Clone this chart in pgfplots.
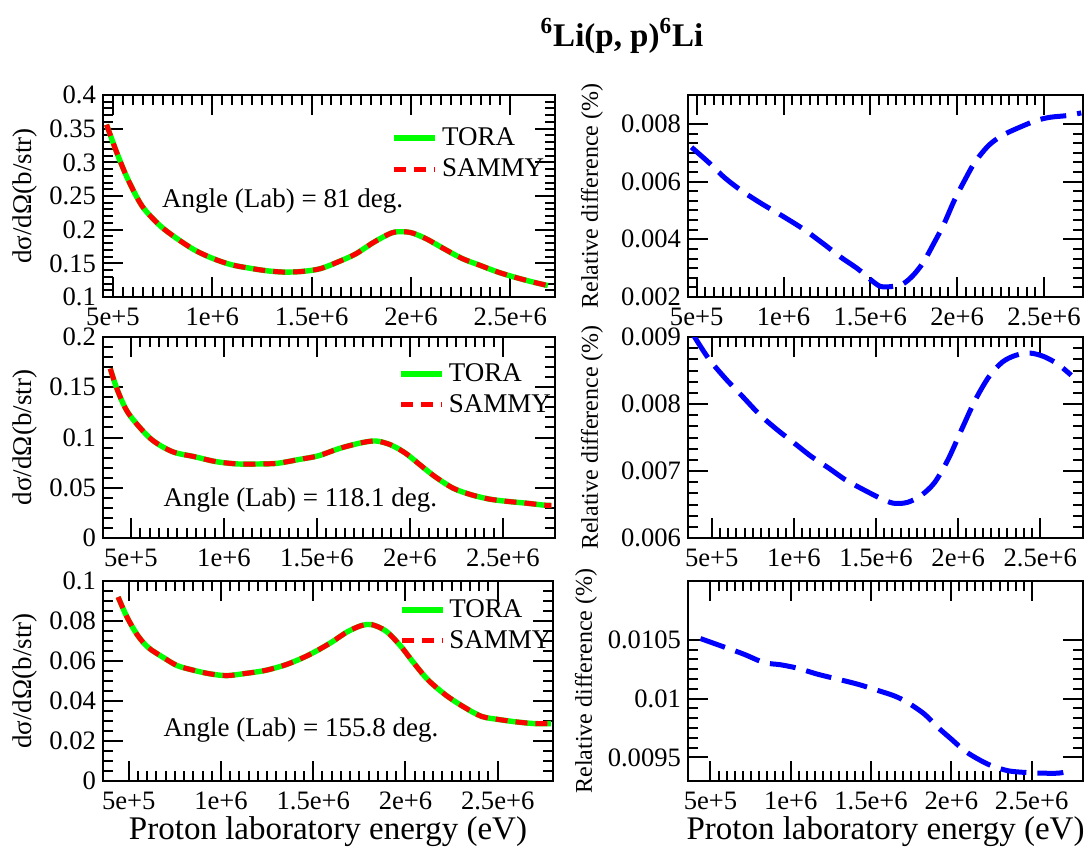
\documentclass[border=0pt]{standalone}
\usepackage{fontspec}
\setmainfont{Liberation Serif}
\usepackage{pgfplots}
\pgfplotsset{compat=1.18}
\definecolor{tgreen}{RGB}{0,255,0}
\definecolor{sred}{RGB}{255,0,0}
\definecolor{dblue}{RGB}{0,0,255}
\pgfplotsset{
  panel/.style={
    scale only axis,
    axis line style={line width=1.3pt},
    tick align=inside,
    xtick pos=both, ytick pos=both,
    xticklabel pos=lower, yticklabel pos=left,
    major tick length=10pt, minor tick length=5pt,
    every tick/.style={black, line width=1pt},
    minor x tick num=9,
    xtick={5e5,1e6,1.5e6,2e6,2.5e6},
    xticklabels={5e+5,1e+6,1.5e+6,2e+6,2.5e+6},
    tick label style={font=\fontsize{13.3}{14}\selectfont},
    xticklabel style={yshift=-2pt},
    scaled ticks=false,
    legend image code/.code={\draw[##1] (0pt,0pt) -- (20.5pt,0pt);},
    legend style={draw=none, fill=none, font=\fontsize{13.5}{15}\selectfont, anchor=north west, legend cell align=left, inner sep=0pt, row sep=1pt},
  },
  leftpanel/.style={panel, width=226pt,
    ylabel={dσ/dΩ(b/str)},
    ylabel style={at={([xshift=-39pt]rel axis cs:0,0.5)}, anchor=center, font=\fontsize{13.5}{15}\selectfont}},
  rightpanel/.style={panel, width=197.5pt,
    ylabel={Relative difference (\%)},
    ylabel style={at={([xshift=-48pt]rel axis cs:0,0.5)}, anchor=center, font=\fontsize{12}{14}\selectfont}},
  xlab/.style={xlabel={Proton laboratory energy (eV)},
    xlabel style={at={([yshift=-25.5pt]rel axis cs:0.5,0)}, anchor=center, font=\fontsize{16.5}{18}\selectfont}},
  tora/.style={draw=tgreen, line width=2.7pt, mark=none, smooth, tension=0.5},
  sammy/.style={draw=sred, line width=2.5pt, mark=none, smooth, tension=0.5, dash pattern=on 6pt off 4pt},
  rdiff/.style={draw=dblue, line width=2.5pt, mark=none, smooth, tension=0.5, dash pattern=on 13pt off 5.5pt},
}
\newcommand{\annfont}{\fontsize{13.5}{15}\selectfont}
\begin{document}
\begin{tikzpicture}
\path[use as bounding box] (0pt,0pt) rectangle (545pt,-424pt);

% ---------- top left: 81 deg ----------
\begin{axis}[leftpanel, at={(51.5pt,-148.5pt)}, anchor=south west, height=101pt,
  xmin=4.5e5, xmax=2.725e6, ymin=0.1, ymax=0.4,
  ytick={0.1,0.15,0.2,0.25,0.3,0.35,0.4},
  yticklabels={0.1,0.15,0.2,0.25,0.3,0.35,0.4},
  minor y tick num=4,
  legend style={at={(rel axis cs:0.638,0.86)}}]
\addplot[tora] coordinates {
(4.68e5,0.356) (5.2e5,0.314) (5.75e5,0.275) (6.47e5,0.235) (7.37e5,0.206)
(8.26e5,0.186) (9.16e5,0.169) (1.005e6,0.157) (1.095e6,0.148) (1.184e6,0.143)
(1.274e6,0.139) (1.363e6,0.137) (1.453e6,0.138) (1.543e6,0.142) (1.632e6,0.152)
(1.722e6,0.164) (1.811e6,0.181) (1.901e6,0.195) (1.955e6,0.197) (2.008e6,0.195)
(2.08e6,0.186) (2.17e6,0.171) (2.259e6,0.157) (2.348e6,0.147) (2.438e6,0.137)
(2.527e6,0.129) (2.617e6,0.122) (2.689e6,0.117)};
\addlegendentry{TORA}
\addplot[sammy] coordinates {
(4.68e5,0.356) (5.2e5,0.314) (5.75e5,0.275) (6.47e5,0.235) (7.37e5,0.206)
(8.26e5,0.186) (9.16e5,0.169) (1.005e6,0.157) (1.095e6,0.148) (1.184e6,0.143)
(1.274e6,0.139) (1.363e6,0.137) (1.453e6,0.138) (1.543e6,0.142) (1.632e6,0.152)
(1.722e6,0.164) (1.811e6,0.181) (1.901e6,0.195) (1.955e6,0.197) (2.008e6,0.195)
(2.08e6,0.186) (2.17e6,0.171) (2.259e6,0.157) (2.348e6,0.147) (2.438e6,0.137)
(2.527e6,0.129) (2.617e6,0.122) (2.689e6,0.117)};
\addlegendentry{SAMMY}
\node[anchor=west, font=\annfont, inner sep=0pt] at (rel axis cs:0.13,0.475) {Angle (Lab) = 81 deg.};
\end{axis}

% ---------- middle left: 118.1 deg ----------
\begin{axis}[leftpanel, at={(51.5pt,-269pt)}, anchor=south west, height=100.5pt,
  xmin=3.5e5, xmax=2.78e6, ymin=0, ymax=0.2,
  ytick={0,0.05,0.1,0.15,0.2},
  yticklabels={0,0.05,0.1,0.15,0.2},
  minor y tick num=4,
  legend style={at={(rel axis cs:0.653,0.89)}}]
\addplot[tora] coordinates {
(3.89e5,0.1686) (4.28e5,0.147) (4.87e5,0.124) (6.05e5,0.099) (7.22e5,0.086)
(8.4e5,0.081) (9.58e5,0.076) (1.075e6,0.0737) (1.193e6,0.0737) (1.29e6,0.0744)
(1.408e6,0.0783) (1.506e6,0.0817) (1.624e6,0.0893) (1.742e6,0.0949) (1.82e6,0.0965)
(1.898e6,0.0926) (1.977e6,0.0843) (2.055e6,0.0727) (2.134e6,0.0612) (2.232e6,0.0496)
(2.33e6,0.043) (2.428e6,0.0387) (2.526e6,0.0364) (2.624e6,0.0347) (2.722e6,0.0327)
(2.76e6,0.0324)};
\addlegendentry{TORA}
\addplot[sammy] coordinates {
(3.89e5,0.1686) (4.28e5,0.147) (4.87e5,0.124) (6.05e5,0.099) (7.22e5,0.086)
(8.4e5,0.081) (9.58e5,0.076) (1.075e6,0.0737) (1.193e6,0.0737) (1.29e6,0.0744)
(1.408e6,0.0783) (1.506e6,0.0817) (1.624e6,0.0893) (1.742e6,0.0949) (1.82e6,0.0965)
(1.898e6,0.0926) (1.977e6,0.0843) (2.055e6,0.0727) (2.134e6,0.0612) (2.232e6,0.0496)
(2.33e6,0.043) (2.428e6,0.0387) (2.526e6,0.0364) (2.624e6,0.0347) (2.722e6,0.0327)
(2.76e6,0.0324)};
\addlegendentry{SAMMY}
\node[anchor=west, font=\annfont, inner sep=0pt] at (rel axis cs:0.133,0.19) {Angle (Lab) = 118.1 deg.};
\end{axis}

% ---------- bottom left: 155.8 deg ----------
\begin{axis}[leftpanel, xlab, at={(51.5pt,-390.5pt)}, anchor=south west, height=100pt, width=225pt,
  xmin=3.6e5, xmax=2.8e6, ymin=0, ymax=0.1,
  ytick={0,0.02,0.04,0.06,0.08,0.1},
  yticklabels={0,0.02,0.04,0.06,0.08,0.1},
  minor y tick num=3,
  legend style={at={(rel axis cs:0.657,0.93)}}]
\addplot[tora] coordinates {
(4.42e5,0.092) (4.9e5,0.082) (5.48e5,0.0728) (6.06e5,0.0667) (6.83e5,0.062)
(7.6e5,0.0578) (8.37e5,0.0557) (9.33e5,0.0537) (1.029e6,0.0527) (1.125e6,0.0537)
(1.24e6,0.0553) (1.356e6,0.0583) (1.471e6,0.0628) (1.587e6,0.0687) (1.683e6,0.0745)
(1.76e6,0.0777) (1.817e6,0.0782) (1.894e6,0.075) (1.971e6,0.0678) (2.048e6,0.0587)
(2.125e6,0.0503) (2.221e6,0.0428) (2.317e6,0.037) (2.413e6,0.0323) (2.51e6,0.0307)
(2.606e6,0.0295) (2.702e6,0.0287) (2.788e6,0.0287)};
\addlegendentry{TORA}
\addplot[sammy] coordinates {
(4.42e5,0.092) (4.9e5,0.082) (5.48e5,0.0728) (6.06e5,0.0667) (6.83e5,0.062)
(7.6e5,0.0578) (8.37e5,0.0557) (9.33e5,0.0537) (1.029e6,0.0527) (1.125e6,0.0537)
(1.24e6,0.0553) (1.356e6,0.0583) (1.471e6,0.0628) (1.587e6,0.0687) (1.683e6,0.0745)
(1.76e6,0.0777) (1.817e6,0.0782) (1.894e6,0.075) (1.971e6,0.0678) (2.048e6,0.0587)
(2.125e6,0.0503) (2.221e6,0.0428) (2.317e6,0.037) (2.413e6,0.0323) (2.51e6,0.0307)
(2.606e6,0.0295) (2.702e6,0.0287) (2.788e6,0.0287)};
\addlegendentry{SAMMY}
\node[anchor=west, font=\annfont, inner sep=0pt] at (rel axis cs:0.134,0.253) {Angle (Lab) = 155.8 deg.};
\end{axis}

% ---------- top right ----------
\begin{axis}[rightpanel, at={(344pt,-148.5pt)}, anchor=south west, height=101pt,
  xmin=4.5e5, xmax=2.725e6, ymin=0.002, ymax=0.009,
  ytick={0.002,0.004,0.006,0.008},
  yticklabels={0.002,0.004,0.006,0.008},
  minor y tick num=5]
\addplot[rdiff] coordinates {
(4.7e5,0.00719) (5.79e5,0.00661) (6.58e5,0.00615) (7.57e5,0.00569) (8.75e5,0.00523)
(9.74e5,0.00488) (1.113e6,0.00436) (1.231e6,0.00384) (1.33e6,0.00338) (1.429e6,0.00297)
(1.508e6,0.00257) (1.558e6,0.00237) (1.617e6,0.00236) (1.686e6,0.00245) (1.745e6,0.00274)
(1.805e6,0.0032) (1.864e6,0.00384) (1.924e6,0.00453) (1.983e6,0.00534) (2.042e6,0.00603)
(2.102e6,0.00667) (2.181e6,0.00725) (2.26e6,0.0076) (2.359e6,0.00788) (2.458e6,0.00812)
(2.537e6,0.00823) (2.636e6,0.00829) (2.715e6,0.00838)};
\end{axis}

% ---------- middle right ----------
\begin{axis}[rightpanel, at={(344pt,-269pt)}, anchor=south west, height=100.5pt,
  xmin=3.55e5, xmax=2.76e6, ymin=0.006, ymax=0.009,
  ytick={0.006,0.007,0.008,0.009},
  yticklabels={0.006,0.007,0.008,0.009},
  minor y tick num=5]
\addplot[rdiff] coordinates {
(3.9e5,0.00902) (4.8e5,0.00868) (5.83e5,0.00838) (6.88e5,0.00811) (7.92e5,0.00784)
(8.96e5,0.00762) (1e6,0.00742) (1.104e6,0.00722) (1.208e6,0.00705) (1.313e6,0.00687)
(1.417e6,0.00673) (1.521e6,0.0066) (1.604e6,0.00652) (1.688e6,0.00653) (1.771e6,0.00663)
(1.854e6,0.00682) (1.938e6,0.00717) (2.021e6,0.00762) (2.104e6,0.00806) (2.188e6,0.00841)
(2.271e6,0.00863) (2.354e6,0.00873) (2.438e6,0.00876) (2.52e6,0.00871) (2.604e6,0.0086)
(2.688e6,0.00843)};
\end{axis}

% ---------- bottom right ----------
\begin{axis}[rightpanel, xlab, at={(344pt,-390.5pt)}, anchor=south west, height=100pt,
  ylabel style={at={([xshift=-51pt]rel axis cs:0,0.5)}},
  xmin=3.6e5, xmax=2.82e6, ymin=0.0093, ymax=0.011,
  ytick={0.0095,0.01,0.0105},
  yticklabels={0.0095,0.01,0.0105},
  minor y tick num=5]
\addplot[rdiff] coordinates {
(4.375e5,0.010511) (5.83e5,0.01044) (7.08e5,0.010378) (8.33e5,0.010307) (9.375e5,0.010288)
(1.042e6,0.010259) (1.167e6,0.010208) (1.292e6,0.010166) (1.417e6,0.010123) (1.521e6,0.010079)
(1.646e6,0.010023) (1.729e6,0.009966) (1.833e6,0.009868) (1.917e6,0.009755) (2e6,0.009656)
(2.083e6,0.009557) (2.167e6,0.009486) (2.25e6,0.00943) (2.354e6,0.009387) (2.458e6,0.009373)
(2.5625e6,0.009367) (2.667e6,0.009367) (2.75e6,0.009387)};
\end{axis}

\node[font=\bfseries\fontsize{16.5}{18}\selectfont] at (311pt,-18pt) {\textsuperscript{6}Li(p, p)\textsuperscript{6}Li};
\end{tikzpicture}
\end{document}
